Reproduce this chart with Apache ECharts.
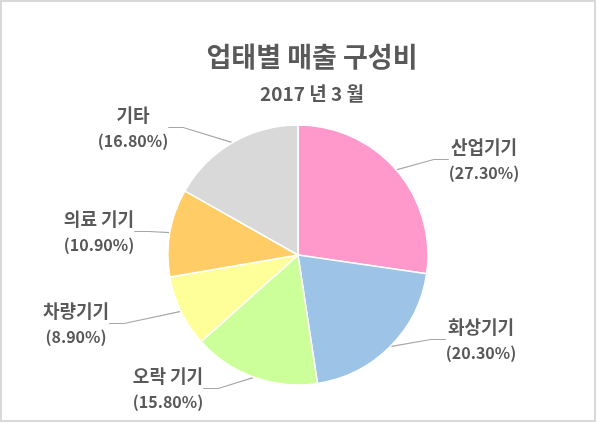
<!DOCTYPE html>
<html>
<head>
<meta charset="utf-8">
<script src="https://cdn.jsdelivr.net/npm/echarts@6/dist/echarts.min.js"></script>
<style>
  html, body { margin: 0; padding: 0; background: #fff; }
  #frame { position: absolute; left: 0; top: 0; width: 596px; height: 422px; box-sizing: border-box; border: 2px solid #d9d9d9; }
  #main { position: absolute; left: 0; top: 0; width: 597px; height: 423px; }
</style>
</head>
<body>
<div id="main"></div>
<div id="frame"></div>
<script>
// 업태별 매출 구성비 (%)
const names = ['산업기기', '화상기기', '오락 기기', '차량기기', '의료 기기', '기타']
const shares = [27.3, 20.3, 15.8, 8.9, 10.9, 16.8]
const colors = ['#FF99CC', '#9DC3E6', '#CCFF99', '#FFFF99', '#FFCC66', '#D9D9D9']
// 라벨 위치 (Excel 배치 흉내)
const labelSpots = [[484, 160], [481, 340], [168, 389], [76, 324], [99, 232], [133, 128]]

let myChart = echarts.init(document.getElementById('main'))
let pieData = names.map((name, i) => {
    return { name: name, value: shares[i], itemStyle: { color: colors[i] } }
})
let option = {
    backgroundColor: '#fff',
    animation: false,
    title: {
        text: '업태별 매출 구성비',
        subtext: '2017 년 3 월',
        left: 307,
        top: 38,
        textAlign: 'center',
        itemGap: 14,
        textStyle: {
            fontFamily: 'Noto Sans CJK KR',
            fontSize: 27,
            fontWeight: 'bold',
            color: '#595959'
        },
        subtextStyle: {
            fontFamily: 'Noto Sans CJK KR',
            fontSize: 19,
            fontWeight: 'bold',
            color: '#595959'
        }
    },
    series: [
        {
            type: 'pie',
            center: [298, 255],
            radius: 130,
            startAngle: 90,
            clockwise: true,
            data: pieData,
            itemStyle: {
                borderColor: '#fff',
                borderWidth: 1.5
            },
            label: {
                show: true,
                position: 'outside',
                formatter: (p) => '{n|' + p.name + '}\n{p|(' + p.value.toFixed(2) + '%)}',
                fontFamily: 'Noto Sans CJK KR',
                fontWeight: 'bold',
                color: '#595959',
                align: 'center',
                rich: {
                    n: { fontFamily: 'Noto Sans CJK KR', fontSize: 18, fontWeight: 'bold', color: '#595959', lineHeight: 26 },
                    p: { fontFamily: 'Noto Sans CJK KR', fontSize: 16, fontWeight: 'bold', color: '#595959', lineHeight: 26 }
                }
            },
            labelLine: {
                show: true,
                length: 15,
                length2: 15,
                lineStyle: { color: '#a6a6a6', width: 1.2 }
            },
            labelLayout: (params) => {
                let spot = labelSpots[params.dataIndex]
                return { x: spot[0], y: spot[1], align: 'center', verticalAlign: 'middle' }
            }
        }
    ]
}
myChart.setOption(option)
</script>
</body>
</html>
